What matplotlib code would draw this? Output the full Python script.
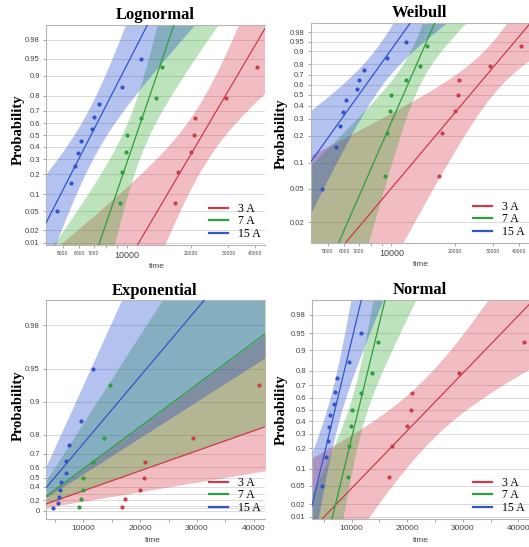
import math
from statistics import NormalDist

import numpy as np
import matplotlib
matplotlib.use("Agg")
import matplotlib.pyplot as plt
from matplotlib.lines import Line2D
from matplotlib.ticker import FixedLocator, NullFormatter

# failure times
groups = ["3 A", "7 A", "15 A"]
times_3a = [16800, 17300, 20000, 20700, 20800, 29300, 41000]
times_7a = [9300, 9500, 9900, 10000, 11700, 13700, 14700]
times_15a = [4700, 5500, 5700, 5900, 6100, 6900, 7000, 7400, 9500, 11700]
# plotting positions on the probability axis
prob_3a = [0.071, 0.214, 0.357, 0.5, 0.643, 0.786, 0.929]
prob_7a = [0.071, 0.214, 0.357, 0.5, 0.643, 0.786, 0.929]
prob_15a = [0.05, 0.15, 0.25, 0.35, 0.45, 0.55, 0.65, 0.75, 0.85, 0.95]

prob_ticks = [0.01, 0.02, 0.05, 0.1, 0.2, 0.3, 0.4, 0.5, 0.6, 0.7, 0.8, 0.9, 0.95, 0.98]
weib_ticks = [0.02, 0.05, 0.1, 0.2, 0.3, 0.4, 0.5, 0.6, 0.7, 0.8, 0.9, 0.95, 0.98]
exp_ticks = [0, 0.2, 0.4, 0.5, 0.6, 0.7, 0.8, 0.9, 0.95, 0.98]
exp_grid = [0.05, 0.1, 0.3]
log_xticks = [5000, 6000, 7000, 10000, 20000, 30000, 40000]
lin_xticks = [10000, 20000, 30000, 40000]

line_colors = ["#cc3c4b", "#2e9e3e", "#3355cc"]
fill_colors = ["#d42637", "#26a526", "#0537cd"]

TIMES = [times_3a, times_7a, times_15a]
PROBS = [prob_3a, prob_7a, prob_15a]
SERIF = "Liberation Serif"
SANS = "Liberation Sans"

ND = NormalDist()
_ppf = np.vectorize(lambda p: ND.inv_cdf(min(max(p, 1e-12), 1 - 1e-12)), otypes=[float])
_erfc = np.vectorize(math.erfc, otypes=[float])


def norm_cdf(z):
    return 0.5 * _erfc(-np.asarray(z, float) / math.sqrt(2))


def sev_cdf(z):
    return -np.expm1(-np.exp(np.clip(z, -50, 5)))


def weib_fwd(p):
    p = np.clip(p, 1e-12, 1 - 1e-12)
    return np.log(-np.log1p(-p))


def expo_fwd(p):
    return -np.log1p(-np.minimum(p, 1 - 1e-12))


def expo_inv(y):
    return -np.expm1(-y)


def weibull_mle(t):
    t = np.asarray(t, float)
    x = np.log(t / t.max())

    def g(b):
        w = np.exp(b * x)
        return np.sum(w * x) / np.sum(w) - 1 / b - x.mean()

    lo, hi = 0.05, 200.0
    for _ in range(200):
        mid = 0.5 * (lo + hi)
        if g(mid) > 0:
            hi = mid
        else:
            lo = mid
    b = 0.5 * (lo + hi)
    eta = t.max() * np.mean(np.exp(b * x)) ** (1 / b)
    return np.log(eta), 1 / b


# asymptotic covariance of (mu, sigma) per observation, in units of sigma^2
VAR = {"normal": (1.0, 0.0, 0.5), "sev": (1.1087, -0.2570, 0.6079)}


def ls_band(y, mu, sig, n, fam):
    z = (y - mu) / sig
    a, b, c = VAR[fam]
    se = np.sqrt((a + 2 * b * z + c * z * z) / n)
    return z, z - 1.96 * se, z + 1.96 * se


fig = plt.figure(figsize=(5.29, 5.47), dpi=100)
W, H = 529.0, 547.0


def box(l, t, r, b):
    return [l / W, 1 - b / H, (r - l) / W, (b - t) / H]


panels = [
    dict(name="Lognormal", kind="lognormal", rect=box(46, 25, 265, 245),
         title=(155, 15), ylab=(18, 130), xlab=(157, 266)),
    dict(name="Weibull", kind="weibull", rect=box(311, 23, 529, 243),
         title=(420, 13), ylab=(281, 134), xlab=(421, 264)),
    dict(name="Exponential", kind="exponential", rect=box(46, 300, 265, 519),
         title=(155, 291), ylab=(18, 406), xlab=(153, 540)),
    dict(name="Normal", kind="normal", rect=box(312, 300, 529, 519),
         title=(420, 290), ylab=(281, 410), xlab=(421, 540)),
]

for P in panels:
    ax = fig.add_axes(P["rect"])
    kind = P["kind"]
    logx = kind in ("lognormal", "weibull")
    if logx:
        ax.set_xscale("log")
        tt = np.geomspace(2500, 60000, 900)
        xlim = (4180, 44500)
    else:
        tt = np.linspace(500, 50000, 900)
        xlim = (3400, 42000) if kind == "exponential" else (2900, 41900)

    if kind in ("lognormal", "normal"):
        ax.set_yscale("function", functions=(_ppf, norm_cdf))
        ylim = (0.0089, 0.9911)
        yt = prob_ticks
        grid = prob_ticks
    elif kind == "weibull":
        ax.set_yscale("function", functions=(weib_fwd, sev_cdf))
        ylim = (0.0113, 0.9935)
        yt = weib_ticks
        grid = weib_ticks
    else:
        ax.set_yscale("function", functions=(expo_fwd, expo_inv))
        ylim = (-0.19, 0.9883)
        yt = exp_ticks
        grid = exp_ticks + exp_grid

    for g in grid:
        ax.axhline(g, color="#d4d4d4", lw=0.6, zorder=0)

    for i in range(3):
        t = np.asarray(TIMES[i], float)
        n = len(t)
        if kind == "exponential":
            theta = t.mean()
            k = np.exp(1.96 / math.sqrt(n))
            mid = expo_inv(tt / theta)
            lo = expo_inv(tt / (theta * k))
            hi = expo_inv(tt / (theta / k))
        else:
            if kind == "lognormal":
                y, yd = np.log(tt), np.log(t)
                mu, sig, fam, cdf = yd.mean(), yd.std(), "normal", norm_cdf
            elif kind == "normal":
                y, yd = tt, t
                mu, sig, fam, cdf = yd.mean(), yd.std(), "normal", norm_cdf
            else:
                y = np.log(tt)
                mu, sig = weibull_mle(t)
                fam, cdf = "sev", sev_cdf
            z, zl, zh = ls_band(y, mu, sig, n, fam)
            zl = np.clip(zl, -8, 8)
            zh = np.clip(zh, -8, 8)
            z = np.clip(z, -8, 8)
            mid, lo, hi = cdf(z), cdf(zl), cdf(zh)
        ax.fill_between(tt, lo, hi, color=fill_colors[i], alpha=0.3, lw=0, zorder=1)
        ax.plot(tt, mid, color=line_colors[i], lw=0.9, zorder=3)
        ax.plot(TIMES[i], PROBS[i], "o", color=line_colors[i], ms=3, mec="none", zorder=4)

    ax.set_xlim(*xlim)
    ax.set_ylim(*ylim)
    ax.yaxis.set_major_locator(FixedLocator(yt))
    ax.set_yticklabels([("%g" % v) for v in yt])
    ax.yaxis.set_minor_locator(FixedLocator([]))

    if logx:
        ax.xaxis.set_major_locator(FixedLocator(log_xticks))
        ax.set_xticklabels([str(v) for v in log_xticks])
        ax.xaxis.set_minor_locator(FixedLocator([8000, 9000]))
        ax.xaxis.set_minor_formatter(NullFormatter())
        for lab in ax.get_xticklabels():
            lab.set_fontsize(6.5 if lab.get_text() == "10000" else 3.6)
    else:
        ax.xaxis.set_major_locator(FixedLocator(lin_xticks))
        ax.set_xticklabels([str(v) for v in lin_xticks])
        ax.xaxis.set_minor_locator(FixedLocator([5000, 15000, 25000, 35000]))
        ax.xaxis.set_minor_formatter(NullFormatter())
        for lab in ax.get_xticklabels():
            lab.set_fontsize(6)

    ax.tick_params(axis="y", length=2.5, width=0.6, color="#999999",
                   labelsize=5.5, labelcolor="#444444", pad=2)
    ax.tick_params(axis="x", which="both", length=2.5, width=0.6, color="#999999",
                   labelcolor="#444444", pad=2)
    for lab in ax.get_xticklabels() + ax.get_yticklabels():
        lab.set_family(SANS)
    for s in ("left", "top", "bottom"):
        ax.spines[s].set_color("#b5b5b5")
        ax.spines[s].set_linewidth(0.8)
    ax.spines["right"].set_visible(False)

    handles = [Line2D([], [], color=c, lw=1.6) for c in line_colors]
    ax.legend(handles, groups, loc="lower right", bbox_to_anchor=(1.03, -0.025),
              frameon=False, handlelength=1.6, handletextpad=0.9, labelspacing=0.05,
              prop={"family": SERIF, "size": 8.5})

    tx, ty = P["title"]
    fig.text(tx / W, 1 - ty / H, P["name"], ha="center", va="center",
             family=SERIF, weight="bold", fontsize=12)
    lx, ly = P["ylab"]
    fig.text(lx / W, 1 - ly / H, "Probability", ha="center", va="center", rotation=90,
             family=SERIF, weight="bold", fontsize=10.5)
    xx, xy = P["xlab"]
    fig.text(xx / W, 1 - xy / H, "time", ha="center", va="center",
             family=SANS, fontsize=6, color="#444444")

fig.savefig("out.png", dpi=100)
